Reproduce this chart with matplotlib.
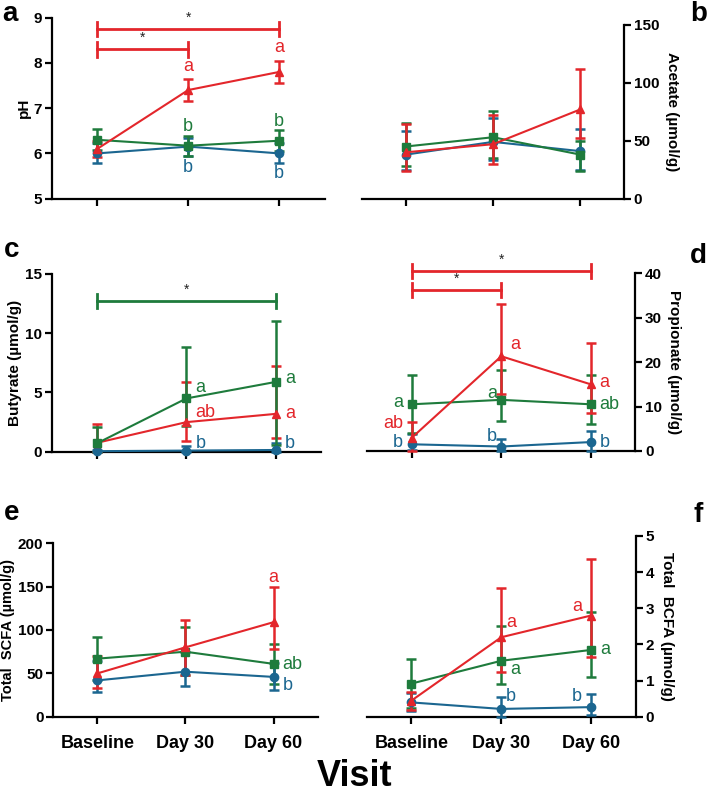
import matplotlib
matplotlib.use('Agg')
import matplotlib.pyplot as plt

plt.rcParams['font.family'] = ['Liberation Sans Narrow', 'Liberation Sans', 'DejaVu Sans']

# colours of the three groups
RED = '#e3262b'
GREEN = '#1e7b3c'
BLUE = '#1b6690'

visits = ['Baseline', 'Day 30', 'Day 60']

# a: pH  (mean, lower, upper)
ph_blue = [6.0, 6.15, 6.0]
ph_blue_lo = [5.78, 5.95, 5.78]
ph_blue_hi = [6.22, 6.35, 6.22]
ph_green = [6.3, 6.17, 6.28]
ph_green_lo = [6.07, 5.95, 6.05]
ph_green_hi = [6.53, 6.39, 6.51]
ph_red = [6.1, 7.4, 7.8]
ph_red_lo = [5.92, 7.16, 7.55]
ph_red_hi = [6.28, 7.65, 8.05]

# b: acetate
ac_blue = [38, 49, 41]
ac_blue_lo = [25, 33, 25]
ac_blue_hi = [58, 70, 60]
ac_green = [45, 53, 38]
ac_green_lo = [28, 35, 24]
ac_green_hi = [65, 76, 50]
ac_red = [40, 47, 77]
ac_red_lo = [24, 30, 52]
ac_red_hi = [64, 72, 112]

# c: butyrate
bu_blue = [0.05, 0.1, 0.15]
bu_blue_lo = [0.0, 0.0, 0.0]
bu_blue_hi = [0.15, 0.5, 0.7]
bu_green = [0.7, 4.5, 5.9]
bu_green_lo = [0.0, 2.2, 0.6]
bu_green_hi = [2.1, 8.8, 11.0]
bu_red = [0.75, 2.5, 3.2]
bu_red_lo = [0.0, 0.9, 1.2]
bu_red_hi = [2.3, 5.9, 7.2]

# d: propionate
pr_blue = [1.5, 1.0, 2.0]
pr_blue_lo = [0.3, 0.0, 0.0]
pr_blue_hi = [3.8, 2.8, 4.6]
pr_green = [10.5, 11.5, 10.5]
pr_green_lo = [4.0, 6.7, 6.0]
pr_green_hi = [17.0, 18.3, 17.0]
pr_red = [3.0, 21.3, 15.0]
pr_red_lo = [0.0, 12.8, 8.5]
pr_red_hi = [6.5, 33.0, 24.3]

# e: total SCFA
sc_blue = [42, 52, 46]
sc_blue_lo = [29, 36, 31]
sc_blue_hi = [64, 75, 62]
sc_green = [67, 75, 61]
sc_green_lo = [42, 48, 38]
sc_green_hi = [92, 103, 84]
sc_red = [50, 80, 109]
sc_red_lo = [33, 48, 78]
sc_red_hi = [70, 112, 150]

# f: total BCFA
bc_blue = [0.4, 0.22, 0.27]
bc_blue_lo = [0.15, 0.0, 0.05]
bc_blue_hi = [0.65, 0.55, 0.63]
bc_green = [0.92, 1.55, 1.85]
bc_green_lo = [0.25, 0.9, 1.1]
bc_green_hi = [1.6, 2.5, 2.9]
bc_red = [0.45, 2.2, 2.8]
bc_red_lo = [0.2, 1.25, 1.65]
bc_red_hi = [0.7, 3.55, 4.35]

fig = plt.figure(figsize=(7.09, 8.01), dpi=100)

ax_a = fig.add_axes([0.073, 0.752, 0.385, 0.226])
ax_b = fig.add_axes([0.511, 0.752, 0.369, 0.217])
ax_c = fig.add_axes([0.073, 0.436, 0.380, 0.222])
ax_d = fig.add_axes([0.518, 0.437, 0.378, 0.222])
ax_e = fig.add_axes([0.075, 0.105, 0.373, 0.217])
ax_f = fig.add_axes([0.517, 0.105, 0.380, 0.226])

x = [0, 1, 2]


def draw_series(ax, mean, lo, hi, color, marker):
    err = [[m - l for m, l in zip(mean, lo)], [h - m for m, h in zip(mean, hi)]]
    ax.errorbar(x, mean, yerr=err, color=color, marker=marker, markersize=6,
                linewidth=1.5, elinewidth=1.8, capsize=3.5, capthick=1.8,
                clip_on=False, zorder=3)


def style(ax, ylim, yticks, ylabel, right=False, lsize=11):
    ax.set_xlim(-0.5, 2.5)
    ax.set_ylim(*ylim)
    ax.set_yticks(yticks)
    ax.set_xticks(x)
    ax.spines['top'].set_visible(False)
    if right:
        ax.spines['left'].set_visible(False)
        ax.yaxis.tick_right()
        ax.yaxis.set_label_position('right')
        ax.set_ylabel(ylabel, fontsize=lsize, fontweight='bold', rotation=270,
                      labelpad=14, family=['Liberation Sans', 'DejaVu Sans'])
    else:
        ax.spines['right'].set_visible(False)
        ax.set_ylabel(ylabel, fontsize=lsize, fontweight='bold', labelpad=2,
                      family=['Liberation Sans', 'DejaVu Sans'])
    for s in ax.spines.values():
        s.set_linewidth(1.6)
    ax.tick_params(direction='out', length=5, width=1.6, labelsize=11, pad=2)
    for lab in ax.get_yticklabels():
        lab.set_fontweight('bold')


def bracket(ax, x0, x1, y, d, color):
    ax.plot([x0, x1], [y, y], color=color, lw=2, clip_on=False)
    ax.plot([x0, x0], [y - d, y + d], color=color, lw=2, clip_on=False)
    ax.plot([x1, x1], [y - d, y + d], color=color, lw=2, clip_on=False)
    ax.text((x0 + x1) / 2, y + d * 0.6, '*', ha='center', va='bottom',
            fontsize=10, color='#222222')


def letters(ax, items):
    for xx, yy, s, c, ha in items:
        ax.text(xx, yy, s, color=c, fontsize=13, ha=ha, va='center',
                family=['Liberation Sans', 'DejaVu Sans'])


# a
draw_series(ax_a, ph_blue, ph_blue_lo, ph_blue_hi, BLUE, 'o')
draw_series(ax_a, ph_green, ph_green_lo, ph_green_hi, GREEN, 's')
draw_series(ax_a, ph_red, ph_red_lo, ph_red_hi, RED, '^')
style(ax_a, (5, 9), [5, 6, 7, 8, 9], 'pH')
ax_a.set_xticklabels([])
bracket(ax_a, 0, 2, 8.75, 0.16, RED)
bracket(ax_a, 0, 1, 8.3, 0.16, RED)
letters(ax_a, [(1, 7.92, 'a', RED, 'center'), (2, 8.35, 'a', RED, 'center'),
               (1, 6.6, 'b', GREEN, 'center'), (2, 6.7, 'b', GREEN, 'center'),
               (1, 5.68, 'b', BLUE, 'center'), (2, 5.56, 'b', BLUE, 'center')])

# b
draw_series(ax_b, ac_blue, ac_blue_lo, ac_blue_hi, BLUE, 'o')
draw_series(ax_b, ac_green, ac_green_lo, ac_green_hi, GREEN, 's')
draw_series(ax_b, ac_red, ac_red_lo, ac_red_hi, RED, '^')
style(ax_b, (0, 150), [0, 50, 100, 150], 'Acetate (µmol/g)', right=True)
ax_b.set_xticklabels([])

# c
draw_series(ax_c, bu_blue, bu_blue_lo, bu_blue_hi, BLUE, 'o')
draw_series(ax_c, bu_red, bu_red_lo, bu_red_hi, RED, '^')
draw_series(ax_c, bu_green, bu_green_lo, bu_green_hi, GREEN, 's')
style(ax_c, (0, 15), [0, 5, 10, 15], 'Butyrate (µmol/g)')
ax_c.set_xticklabels([])
bracket(ax_c, 0, 2, 12.7, 0.6, GREEN)
letters(ax_c, [(1.1, 5.4, 'a', GREEN, 'left'), (2.1, 6.2, 'a', GREEN, 'left'),
               (1.1, 3.3, 'ab', RED, 'left'), (2.1, 3.2, 'a', RED, 'left'),
               (1.1, 0.7, 'b', BLUE, 'left'), (2.1, 0.7, 'b', BLUE, 'left')])

# d
draw_series(ax_d, pr_blue, pr_blue_lo, pr_blue_hi, BLUE, 'o')
draw_series(ax_d, pr_green, pr_green_lo, pr_green_hi, GREEN, 's')
draw_series(ax_d, pr_red, pr_red_lo, pr_red_hi, RED, '^')
style(ax_d, (0, 40), [0, 10, 20, 30, 40], 'Propionate (µmol/g)', right=True)
ax_d.set_xticklabels([])
bracket(ax_d, 0, 2, 40.5, 1.5, RED)
bracket(ax_d, 0, 1, 36.2, 1.5, RED)
letters(ax_d, [(-0.1, 11, 'a', GREEN, 'right'), (0.95, 13, 'a', GREEN, 'right'),
               (2.1, 10.5, 'ab', GREEN, 'left'),
               (-0.1, 6.2, 'ab', RED, 'right'), (1.1, 24, 'a', RED, 'left'),
               (2.1, 15.5, 'a', RED, 'left'),
               (-0.1, 1.8, 'b', BLUE, 'right'), (0.95, 3.2, 'b', BLUE, 'right'),
               (2.1, 2.0, 'b', BLUE, 'left')])

# e
draw_series(ax_e, sc_green, sc_green_lo, sc_green_hi, GREEN, 's')
draw_series(ax_e, sc_blue, sc_blue_lo, sc_blue_hi, BLUE, 'o')
draw_series(ax_e, sc_red, sc_red_lo, sc_red_hi, RED, '^')
style(ax_e, (0, 200), [0, 50, 100, 150, 200], 'Total  SCFA (µmol/g)', lsize=10.5)
ax_e.set_xticklabels(visits, fontsize=13, fontweight='bold')
ax_e.tick_params(axis='x', pad=8)
letters(ax_e, [(2, 160, 'a', RED, 'center'), (2.1, 60, 'ab', GREEN, 'left'),
               (2.1, 36, 'b', BLUE, 'left')])

# f
draw_series(ax_f, bc_blue, bc_blue_lo, bc_blue_hi, BLUE, 'o')
draw_series(ax_f, bc_green, bc_green_lo, bc_green_hi, GREEN, 's')
draw_series(ax_f, bc_red, bc_red_lo, bc_red_hi, RED, '^')
style(ax_f, (0, 5), [0, 1, 2, 3, 4, 5], 'Total  BCFA (µmol/g)', right=True)
ax_f.set_xticklabels(visits, fontsize=13, fontweight='bold')
ax_f.tick_params(axis='x', pad=8)
letters(ax_f, [(1.05, 2.6, 'a', RED, 'left'), (1.9, 3.05, 'a', RED, 'right'),
               (1.1, 1.3, 'a', GREEN, 'left'), (2.1, 1.85, 'a', GREEN, 'left'),
               (1.05, 0.55, 'b', BLUE, 'left'), (1.9, 0.55, 'b', BLUE, 'right')])

# panel letters
for lab, px, py in [('a', 0.014, 0.982), ('b', 0.985, 0.982),
                     ('c', 0.016, 0.688), ('d', 0.985, 0.680),
                     ('e', 0.016, 0.360), ('f', 0.985, 0.357)]:
    fig.text(px, py, lab, fontsize=20, fontweight='bold', ha='center', va='center',
             family=['Liberation Sans', 'DejaVu Sans'])

fig.text(0.5, 0.03, 'Visit', fontsize=26, fontweight='bold', ha='center', va='center')

fig.savefig('out.png', dpi=100)
